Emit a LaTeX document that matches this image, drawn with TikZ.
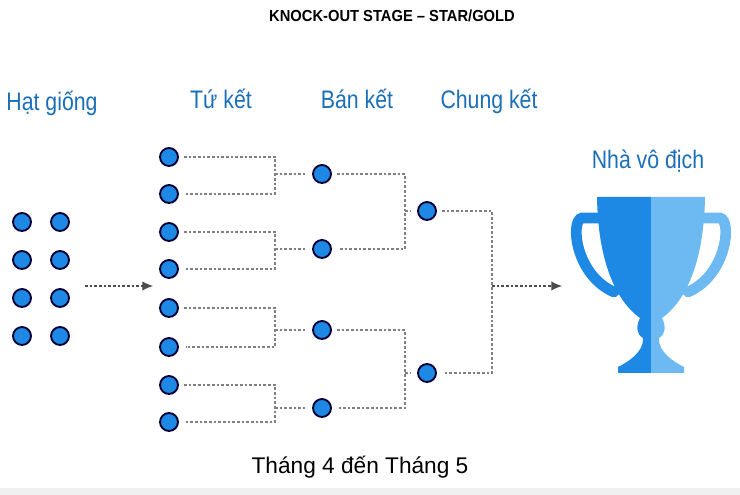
\documentclass[tikz,border=0pt]{standalone}
\usepackage{fontspec}
\setmainfont{Liberation Sans}
\usetikzlibrary{arrows.meta}
\begin{document}
\begin{tikzpicture}[x=0.75pt,y=-0.75pt,
  dot/.style={circle,draw=black!80!blue,line width=1.4pt,fill=seed,minimum size=13.5pt,inner sep=0pt},
  link/.style={gray,line width=0.8pt,dash pattern=on 2pt off 1.5pt},
  head/.style={text=headc,font=\fontsize{19}{22}\selectfont,anchor=base,xscale=0.84,transform shape},
  arr/.style={link,-{Latex[length=8pt,width=7pt]},draw=black!70}]
\definecolor{seed}{HTML}{1E88E5}
\definecolor{headc}{HTML}{1A6FB8}
\definecolor{trd}{HTML}{1E88E5}
\definecolor{trl}{HTML}{6DB9F2}
\useasboundingbox (0,0) rectangle (740,495);
\fill[black!6] (0,488) rectangle (740,495);
\node[font=\bfseries\fontsize{12}{14}\selectfont,xscale=0.92,transform shape] (title) at (392,16) {KNOCK-OUT STAGE -- STAR/GOLD};
\node[head] (h1) at (52,111) {Hạt giống};
\node[head] (h2) at (221,109) {Tứ kết};
\node[head] (h3) at (357,109) {Bán kết};
\node[head] (h4) at (489,109) {Chung kết};
\node[head] (h5) at (648,169) {Nhà vô địch};
\node[font=\fontsize{17}{20}\selectfont] (foot) at (360,467) {Tháng 4 đến Tháng 5};
% seeds
\foreach \i/\y in {1/222,2/260,3/298,4/336}{
  \node[dot] (sa\i) at (22,\y) {};
  \node[dot] (sb\i) at (60,\y) {};}
% quarterfinals
\foreach \i/\y in {1/157,2/194,3/232,4/269,5/308,6/347,7/385,8/422}
  \node[dot] (q\i) at (169,\y) {};
\foreach \i/\y in {1/174,2/249,3/330,4/408}
  \node[dot] (s\i) at (322,\y) {};
\node[dot] (f1) at (427,211) {};
\node[dot] (f2) at (427,373) {};
\foreach \a/\b/\s in {1/2/1,3/4/2,5/6/3,7/8/4}{
  \draw[link] (q\a.east) ++(5,0) -| (275,0 |- q\a) |- ([xshift=5]q\b.east);
  \draw[link] (275,0 |- s\s) -- ([xshift=-5]s\s.west);}
\foreach \a/\b/\f in {1/2/1,3/4/2}{
  \draw[link] (s\a.east) ++(5,0) -| (405,0 |- s\a) |- ([xshift=5]s\b.east);
  \draw[link] (405,0 |- f\f) -- ([xshift=-5]f\f.west);}
\draw[link] (f1.east) ++(5,0) -| (492,0 |- f1) |- ([xshift=5]f2.east);
\coordinate (fin) at (492,286);
\coordinate (cup) at (562,286);
\draw[arr] (fin) -- (cup);
\coordinate (sd) at (85,286);
\coordinate (qd) at (153,286);
\draw[arr] (sd) -- (qd);
% trophy
\draw[trd,line width=8pt,line cap=round] (602,218) -- (582,218) .. controls (570,220) and (575,275) .. (614,292);
\draw[trl,line width=8pt,line cap=round] (700,218) -- (720,218) .. controls (732,220) and (727,275) .. (688,292);
\fill[trd] (651,197) -- (597,197) .. controls (598,260) and (615,300) .. (640,318)
  .. controls (636,326) and (636,334) .. (643,338) .. controls (644,352) and (628,362) .. (618,367)
  -- (618,373) -- (651,373) -- cycle;
\fill[trl] (651,197) -- (705,197) .. controls (704,260) and (687,300) .. (662,318)
  .. controls (666,326) and (666,334) .. (659,338) .. controls (658,352) and (674,362) .. (684,367)
  -- (684,373) -- (651,373) -- cycle;
\end{tikzpicture}
\end{document}
